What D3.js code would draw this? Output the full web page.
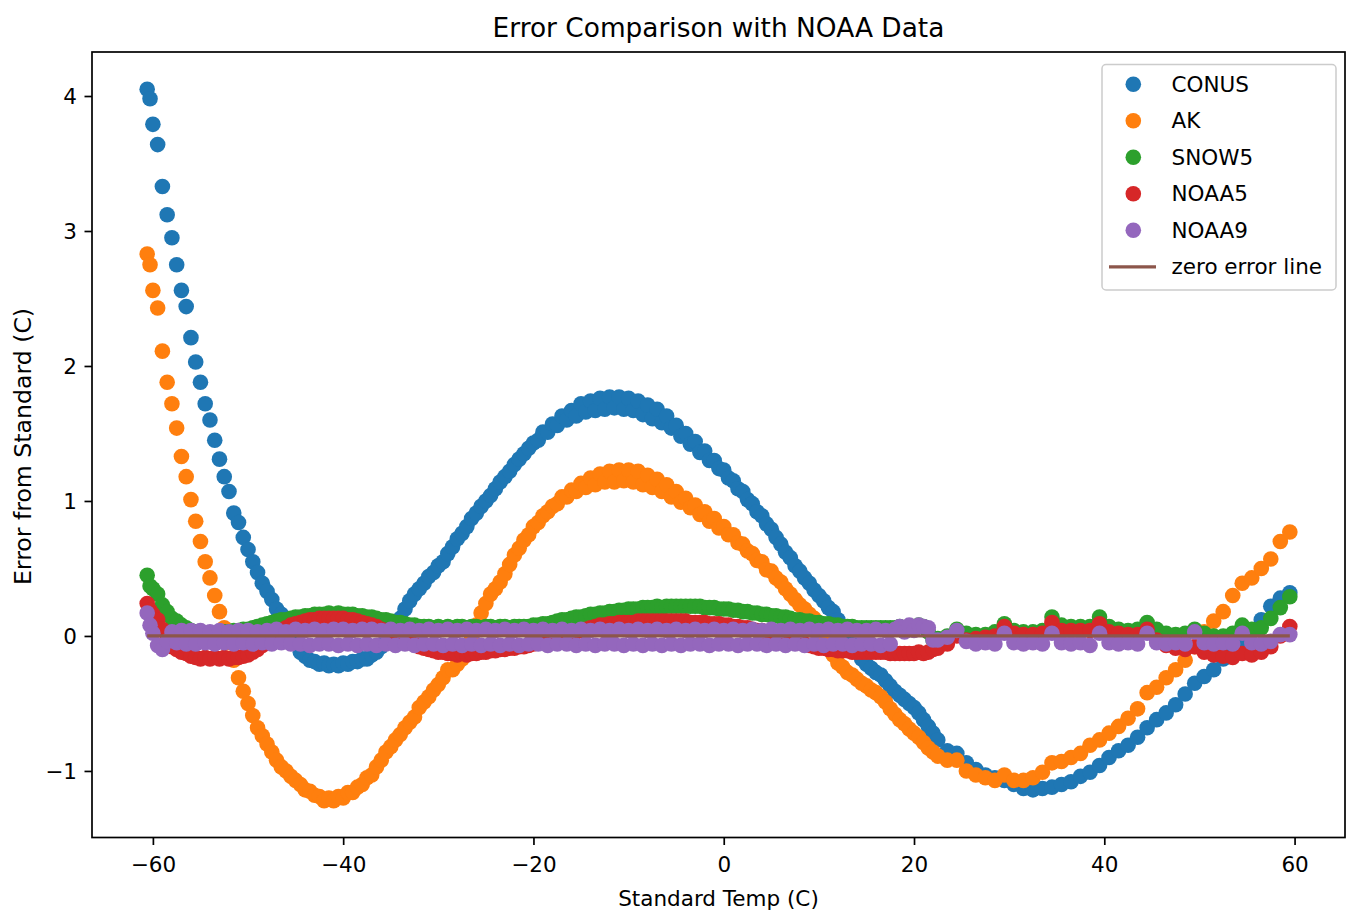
<!DOCTYPE html>
<html>
<head>
<meta charset="utf-8">
<title>Error Comparison with NOAA Data</title>
<script src="https://cdn.jsdelivr.net/npm/d3@7"></script>
<style>
  body { margin: 0; background: #fff; }
  #viz-container svg text { font-family: "DejaVu Sans", sans-serif; fill: #000; }
</style>
</head>
<body>
<div id="viz-container"></div>
<script>
// Standard temperatures (C) the sensors were checked at
var temps = [
  -60.6,-60.3,-60,-59.5,-59,-58.5,-58,-57.5,-57,-56.5,-56,-55.5,
  -55,-54.5,-54,-53.5,-53,-52.5,-52,-51.5,-51,-50.5,
  -50,-49.5,-49,-48.5,-48,-47.5,-47,-46.5,-46,-45.5,
  -45,-44.5,-44,-43.5,-43,-42.5,-42,-41.5,-41,-40.5,
  -40,-39.5,-39,-38.5,-38,-37.5,-37,-36.5,-36,-35.5,
  -35,-34.5,-34,-33.5,-33,-32.5,-32,-31.5,-31,-30.5,
  -30,-29.5,-29,-28.5,-28,-27.5,-27,-26.5,-26,-25.5,
  -25,-24.5,-24,-23.5,-23,-22.5,-22,-21.5,-21,-20.5,
  -20,-19.5,-19,-18.5,-18,-17.5,-17,-16.5,-16,-15.5,
  -15,-14.5,-14,-13.5,-13,-12.5,-12,-11.5,-11,-10.5,
  -10,-9.5,-9,-8.5,-8,-7.5,-7,-6.5,-6,-5.5,
  -5,-4.5,-4,-3.5,-3,-2.5,-2,-1.5,-1,-0.5,
  0,0.5,1,1.5,2,2.5,3,3.5,4,4.5,
  5,5.5,6,6.5,7,7.5,8,8.5,9,9.5,
  10,10.5,11,11.5,12,12.5,13,13.5,14,14.5,
  15,15.5,16,16.5,17,17.5,18,18.5,19,19.5,
  20,20.5,21,21.5,22,22.5,
  23.5,24.5,25.5,26.5,27.5,28.5,29.5,30.5,31.5,32.5,
  33.5,34.5,35.5,36.5,37.5,38.5,39.5,40.5,41.5,42.5,
  43.5,44.5,45.5,46.5,47.5,48.5,49.5,50.5,51.5,52.5,
  53.5,54.5,55.5,56.5,57.5,58.5,59.5
];

// Error from standard (C) for each model, same order as temps
var conus = [
  4.05,3.98,3.79,3.64,3.33,3.12,2.95,2.75,2.56,2.44,2.21,2.03,
  1.88,1.72,1.60,1.45,1.31,1.18,1.07,0.91,0.84,0.73,
  0.64,0.55,0.47,0.39,0.33,0.27,0.20,0.16,0.08,0.02,
  -0.06,-0.12,-0.15,-0.18,-0.19,-0.21,-0.20,-0.22,-0.21,-0.22,
  -0.20,-0.21,-0.19,-0.19,-0.17,-0.17,-0.14,-0.12,-0.08,-0.04,
  0.02,0.07,0.13,0.20,0.26,0.31,0.35,0.39,0.44,0.47,
  0.52,0.55,0.61,0.66,0.72,0.76,0.81,0.87,0.91,0.96,
  1.00,1.04,1.09,1.14,1.18,1.22,1.27,1.31,1.35,1.39,
  1.43,1.45,1.51,1.51,1.57,1.56,1.63,1.60,1.67,1.63,
  1.72,1.66,1.74,1.67,1.76,1.68,1.77,1.69,1.77,1.68,
  1.76,1.67,1.74,1.64,1.71,1.61,1.68,1.58,1.63,1.54,
  1.56,1.48,1.50,1.42,1.44,1.36,1.37,1.30,1.30,1.24,
  1.23,1.17,1.15,1.09,1.07,1.01,0.98,0.92,0.89,0.83,
  0.79,0.73,0.68,0.62,0.58,0.52,0.48,0.43,0.39,0.34,
  0.30,0.26,0.21,0.18,0.12,0.07,0.00,-0.05,-0.12,-0.17,
  -0.21,-0.24,-0.27,-0.29,-0.33,-0.37,-0.41,-0.44,-0.47,-0.50,
  -0.53,-0.57,-0.62,-0.67,-0.72,-0.77,
  -0.85,-0.87,-0.94,-0.99,-1.03,-1.05,-1.07,-1.10,-1.13,-1.14,
  -1.13,-1.12,-1.10,-1.08,-1.04,-1.01,-0.96,-0.90,-0.85,-0.81,
  -0.75,-0.68,-0.62,-0.57,-0.51,-0.43,-0.35,-0.30,-0.25,-0.17,
  -0.10,-0.03,0.04,0.12,0.22,0.28,0.32
];
var ak = [
  2.83,2.75,2.56,2.43,2.11,1.88,1.72,1.54,1.33,1.18,1.01,0.85,
  0.70,0.55,0.43,0.30,0.18,0.06,-0.05,-0.18,-0.31,-0.41,
  -0.50,-0.59,-0.68,-0.74,-0.80,-0.86,-0.92,-0.97,-1.00,-1.04,
  -1.07,-1.10,-1.14,-1.15,-1.18,-1.19,-1.22,-1.20,-1.22,-1.19,
  -1.20,-1.16,-1.16,-1.12,-1.10,-1.05,-1.03,-0.97,-0.92,-0.86,
  -0.82,-0.77,-0.73,-0.68,-0.64,-0.60,-0.53,-0.49,-0.45,-0.40,
  -0.36,-0.31,-0.25,-0.25,-0.21,-0.17,-0.09,-0.02,0.08,0.17,
  0.24,0.31,0.35,0.40,0.46,0.53,0.60,0.65,0.71,0.75,
  0.81,0.84,0.89,0.92,0.96,0.98,1.03,1.03,1.08,1.07,
  1.13,1.10,1.17,1.12,1.20,1.14,1.22,1.14,1.23,1.15,
  1.23,1.14,1.22,1.12,1.19,1.10,1.16,1.07,1.12,1.03,
  1.07,0.99,1.02,0.95,0.97,0.90,0.92,0.85,0.87,0.80,
  0.81,0.75,0.75,0.69,0.68,0.63,0.61,0.56,0.55,0.49,
  0.48,0.43,0.40,0.35,0.31,0.27,0.23,0.20,0.16,0.13,
  0.06,0.00,-0.07,-0.14,-0.20,-0.23,-0.27,-0.29,-0.32,-0.35,
  -0.37,-0.40,-0.42,-0.45,-0.49,-0.54,-0.58,-0.62,-0.65,-0.69,
  -0.72,-0.75,-0.79,-0.83,-0.86,-0.89,
  -0.92,-0.92,-1.00,-1.03,-1.05,-1.07,-1.03,-1.07,-1.07,-1.05,
  -1.01,-0.94,-0.93,-0.90,-0.87,-0.81,-0.77,-0.72,-0.67,-0.61,
  -0.54,-0.42,-0.38,-0.31,-0.25,-0.18,-0.08,0.03,0.11,0.18,
  0.30,0.39,0.43,0.50,0.57,0.70,0.77
];
var snow5 = [
  0.45,0.37,0.35,0.31,0.23,0.18,0.13,0.11,0.08,0.06,0.04,0.03,
  0.02,0.02,0.01,0.02,0.02,0.03,0.03,0.04,0.04,0.05,
  0.05,0.06,0.07,0.08,0.09,0.10,0.11,0.12,0.12,0.13,
  0.14,0.14,0.15,0.15,0.16,0.16,0.16,0.17,0.16,0.17,
  0.16,0.16,0.16,0.15,0.15,0.14,0.14,0.13,0.12,0.12,
  0.11,0.10,0.10,0.09,0.08,0.08,0.07,0.07,0.07,0.06,
  0.07,0.06,0.07,0.06,0.07,0.07,0.06,0.07,0.07,0.06,
  0.07,0.07,0.06,0.07,0.07,0.06,0.07,0.07,0.07,0.07,
  0.08,0.08,0.09,0.09,0.10,0.11,0.12,0.12,0.13,0.14,
  0.14,0.15,0.16,0.16,0.17,0.17,0.18,0.18,0.19,0.19,
  0.20,0.20,0.20,0.21,0.21,0.21,0.22,0.21,0.22,0.22,
  0.22,0.22,0.22,0.22,0.22,0.22,0.21,0.21,0.21,0.20,
  0.20,0.20,0.19,0.19,0.18,0.18,0.17,0.17,0.16,0.16,
  0.15,0.15,0.14,0.14,0.13,0.12,0.12,0.11,0.11,0.10,
  0.10,0.09,0.09,0.08,0.08,0.07,0.07,0.07,0.06,0.06,
  0.06,0.06,0.06,0.06,0.06,0.06,0.06,0.07,0.06,0.07,
  0.07,0.08,0.07,0.03,-0.03,-0.02,
  0.00,0.05,0.02,0.01,0.01,0.03,0.09,0.04,0.03,0.03,
  0.04,0.14,0.08,0.07,0.07,0.07,0.14,0.07,0.05,0.04,
  0.05,0.10,0.05,0.02,0.01,0.02,0.05,0.02,0.00,0.00,
  0.02,0.08,0.05,0.06,0.13,0.21,0.29
];
var noaa5 = [
  0.24,0.19,0.16,0.12,0.05,-0.02,-0.08,-0.10,-0.12,-0.13,-0.15,-0.16,
  -0.17,-0.16,-0.17,-0.16,-0.17,-0.16,-0.17,-0.16,-0.16,-0.15,
  -0.14,-0.12,-0.10,-0.07,-0.04,-0.01,0.02,0.04,0.06,0.08,
  0.09,0.10,0.11,0.12,0.12,0.13,0.13,0.13,0.13,0.13,
  0.13,0.12,0.12,0.11,0.10,0.09,0.08,0.07,0.05,0.04,
  0.02,0.01,-0.01,-0.03,-0.05,-0.06,-0.08,-0.09,-0.10,-0.11,
  -0.12,-0.12,-0.13,-0.13,-0.14,-0.13,-0.14,-0.13,-0.13,-0.12,
  -0.12,-0.11,-0.11,-0.10,-0.10,-0.09,-0.09,-0.08,-0.08,-0.07,
  -0.06,-0.05,-0.04,-0.03,-0.02,-0.01,0.00,0.01,0.02,0.03,
  0.04,0.05,0.06,0.07,0.08,0.08,0.09,0.09,0.10,0.10,
  0.10,0.10,0.11,0.11,0.11,0.11,0.11,0.11,0.11,0.11,
  0.11,0.11,0.11,0.10,0.10,0.10,0.10,0.09,0.09,0.09,
  0.08,0.08,0.07,0.07,0.06,0.06,0.05,0.04,0.04,0.03,
  0.02,0.01,0.00,-0.01,-0.02,-0.03,-0.05,-0.06,-0.07,-0.08,
  -0.09,-0.09,-0.10,-0.10,-0.11,-0.11,-0.11,-0.12,-0.12,-0.12,
  -0.12,-0.12,-0.12,-0.12,-0.12,-0.13,-0.13,-0.13,-0.13,-0.13,
  -0.13,-0.12,-0.13,-0.12,-0.10,-0.09,
  -0.06,0.00,-0.03,-0.02,-0.01,0.00,0.07,0.02,0.01,0.01,
  0.02,0.10,0.04,0.04,0.04,0.04,0.09,0.03,0.02,0.01,
  0.01,0.05,-0.03,-0.07,-0.09,-0.10,-0.08,-0.12,-0.14,-0.15,
  -0.16,-0.13,-0.14,-0.12,-0.08,0.00,0.07
];
var noaa9 = [
  0.17,0.08,0.02,-0.07,-0.10,-0.04,0.03,-0.05,0.04,-0.06,0.04,-0.06,
  0.04,-0.05,0.03,-0.06,0.04,-0.05,0.03,-0.06,0.04,-0.05,
  0.04,-0.06,0.03,-0.05,0.04,-0.06,0.05,-0.05,0.03,-0.06,
  0.05,-0.06,0.04,-0.07,0.05,-0.06,0.04,-0.06,0.05,-0.07,
  0.05,-0.06,0.04,-0.07,0.05,-0.06,0.05,-0.07,0.04,-0.06,
  0.05,-0.07,0.04,-0.06,0.05,-0.07,0.04,-0.06,0.05,-0.06,
  0.04,-0.07,0.05,-0.06,0.04,-0.07,0.05,-0.06,0.04,-0.07,
  0.05,-0.06,0.04,-0.07,0.05,-0.06,0.04,-0.07,0.05,-0.06,
  0.04,-0.06,0.05,-0.07,0.04,-0.06,0.05,-0.06,0.04,-0.07,
  0.05,-0.06,0.04,-0.07,0.05,-0.06,0.04,-0.06,0.05,-0.07,
  0.04,-0.06,0.05,-0.07,0.04,-0.06,0.05,-0.07,0.04,-0.06,
  0.05,-0.07,0.04,-0.06,0.05,-0.06,0.04,-0.07,0.05,-0.06,
  0.04,-0.06,0.05,-0.07,0.04,-0.06,0.05,-0.06,0.04,-0.07,
  0.05,-0.06,0.04,-0.07,0.05,-0.06,0.04,-0.07,0.05,-0.06,
  0.04,-0.07,0.05,-0.06,0.04,-0.06,0.05,-0.07,0.04,-0.06,
  0.04,-0.06,0.05,-0.07,0.04,-0.06,0.05,0.07,0.03,0.08,
  0.04,0.08,0.07,0.06,-0.03,-0.03,
  -0.01,0.04,-0.04,-0.06,-0.05,-0.06,0.02,-0.05,-0.06,-0.05,
  -0.06,0.02,-0.05,-0.06,-0.05,-0.07,0.02,-0.05,-0.06,-0.05,
  -0.06,0.02,-0.05,-0.06,-0.05,-0.06,0.03,-0.05,-0.06,-0.05,
  -0.06,0.02,-0.05,-0.06,-0.04,0.01,0.01
];

var seriesNames = ["CONUS", "AK", "SNOW5", "NOAA5", "NOAA9"];
var seriesValues = [conus, ak, snow5, noaa5, noaa9];
var seriesColors = ["#1f77b4", "#ff7f0e", "#2ca02c", "#d62728", "#9467bd"];
var lineLabel = "zero error line";
var lineColor = "#8c564b";

var xTicks = [-60, -40, -20, 0, 20, 40, 60];
var yTicks = [-1, 0, 1, 2, 3, 4];

var ErrorChart = function(opts) {
  this.element = opts.element;
  this.width = opts.width;
  this.height = opts.height;
  this.margin = opts.margin;
  this.title = opts.title;
  this.xLabel = opts.xLabel;
  this.yLabel = opts.yLabel;
  this.dotRadius = 7.8;

  this.draw();
};
ErrorChart.prototype.draw = function() {
  this.element.innerHTML = '';

  this.svg = d3.select(this.element).append("svg")
    .attr("width", this.width)
    .attr("height", this.height);

  this.svg.append("rect")
    .attr("width", this.width)
    .attr("height", this.height)
    .attr("fill", "#fff");

  this.plotWidth = this.width - this.margin.left - this.margin.right;
  this.plotHeight = this.height - this.margin.top - this.margin.bottom;

  // matplotlib-ish padding around the data
  this.x = d3.scaleLinear().domain([-66.4, 65.3]).range([0, this.plotWidth]);
  this.y = d3.scaleLinear().domain([-1.493, 4.326]).range([this.plotHeight, 0]);

  this.plot = this.svg.append("g")
    .attr("transform", "translate(" + this.margin.left + "," + this.margin.top + ")");

  this.drawPoints();
  this.drawZeroLine();
  this.drawAxes();
  this.drawLegend();
  this.addLabels();
};
ErrorChart.prototype.drawPoints = function() {
  var that = this;
  seriesValues.forEach(function(values, i) {
    that.plot.append("g")
      .attr("class", "series")
      .selectAll("circle")
      .data(values).enter()
      .append("circle")
        .attr("cx", function(d, j) { return that.x(temps[j]); })
        .attr("cy", function(d) { return that.y(d); })
        .attr("r", that.dotRadius)
        .attr("fill", seriesColors[i]);
  });
};
ErrorChart.prototype.drawZeroLine = function() {
  var ext = d3.extent(temps);
  this.plot.append("line")
    .attr("x1", this.x(ext[0]))
    .attr("x2", this.x(ext[1]))
    .attr("y1", this.y(0))
    .attr("y2", this.y(0))
    .attr("stroke", lineColor)
    .attr("stroke-width", 3.2);
};
ErrorChart.prototype.drawAxes = function() {
  var fmt = d3.format("d");

  var xAxis = this.plot.append("g")
    .attr("transform", "translate(0," + this.plotHeight + ")")
    .call(d3.axisBottom(this.x).tickValues(xTicks).tickFormat(fmt)
      .tickSize(7.5).tickPadding(11.4));

  var yAxis = this.plot.append("g")
    .call(d3.axisLeft(this.y).tickValues(yTicks).tickFormat(fmt)
      .tickSize(7.5).tickPadding(7.5));

  [xAxis, yAxis].forEach(function(ax) {
    ax.select(".domain").remove();
    ax.selectAll(".tick line").attr("stroke", "#000").attr("stroke-width", 1.7);
    ax.selectAll(".tick text")
      .style("font-size", "21.5px")
      .attr("fill", "#000");
  });
  yAxis.selectAll(".tick text").attr("dy", "0.36em");

  // frame
  this.plot.append("rect")
    .attr("width", this.plotWidth)
    .attr("height", this.plotHeight)
    .attr("fill", "none")
    .attr("stroke", "#000")
    .attr("stroke-width", 1.7);
};
ErrorChart.prototype.drawLegend = function() {
  var that = this;
  var legend = this.svg.append("g")
    .attr("class", "legend")
    .attr("transform", "translate(1102,64.5)");

  legend.append("rect")
    .attr("width", 234)
    .attr("height", 225.5)
    .attr("rx", 4)
    .attr("fill", "#fff")
    .attr("fill-opacity", 0.8)
    .attr("stroke", "#cccccc")
    .attr("stroke-width", 1.5);

  var rowStep = 36.5, rowTop = 19.8;

  var rows = legend.selectAll(".entry")
    .data(seriesNames).enter()
    .append("g")
      .attr("class", "entry")
      .attr("transform", function(d, i) { return "translate(0," + (rowTop + i * rowStep) + ")"; });

  rows.append("circle")
    .attr("cx", 31.3)
    .attr("r", that.dotRadius)
    .attr("fill", function(d, i) { return seriesColors[i]; });

  rows.append("text")
    .attr("x", 69.5)
    .attr("y", 7.6)
    .style("font-size", "21.5px")
    .text(function(d) { return d; });

  var lineRow = legend.append("g")
    .attr("transform", "translate(0," + (rowTop + seriesNames.length * rowStep) + ")");
  lineRow.append("line")
    .attr("x1", 7).attr("x2", 54)
    .attr("stroke", lineColor)
    .attr("stroke-width", 3.2);
  lineRow.append("text")
    .attr("x", 69.5)
    .attr("y", 7.6)
    .style("font-size", "21.5px")
    .text(lineLabel);
};
ErrorChart.prototype.addLabels = function() {
  var cx = this.margin.left + this.plotWidth / 2;

  this.svg.append("text")
    .attr("x", cx)
    .attr("y", 36.5)
    .attr("text-anchor", "middle")
    .style("font-size", "26.4px")
    .text(this.title);

  this.svg.append("text")
    .attr("x", cx)
    .attr("y", 905.5)
    .attr("text-anchor", "middle")
    .style("font-size", "21.5px")
    .text(this.xLabel);

  // y label is set a touch larger than the x label
  this.svg.append("text")
    .attr("transform", "translate(30.5,446.5) rotate(-90)")
    .attr("text-anchor", "middle")
    .style("font-size", "23.6px")
    .text(this.yLabel);
};

var chart = new ErrorChart({
  element: document.querySelector('#viz-container'),
  width: 1346,
  height: 912,
  margin: { top: 52, right: 1, bottom: 74.5, left: 92 },
  title: "Error Comparison with NOAA Data",
  xLabel: "Standard Temp (C)",
  yLabel: "Error from Standard (C)"
});
</script>
</body>
</html>
